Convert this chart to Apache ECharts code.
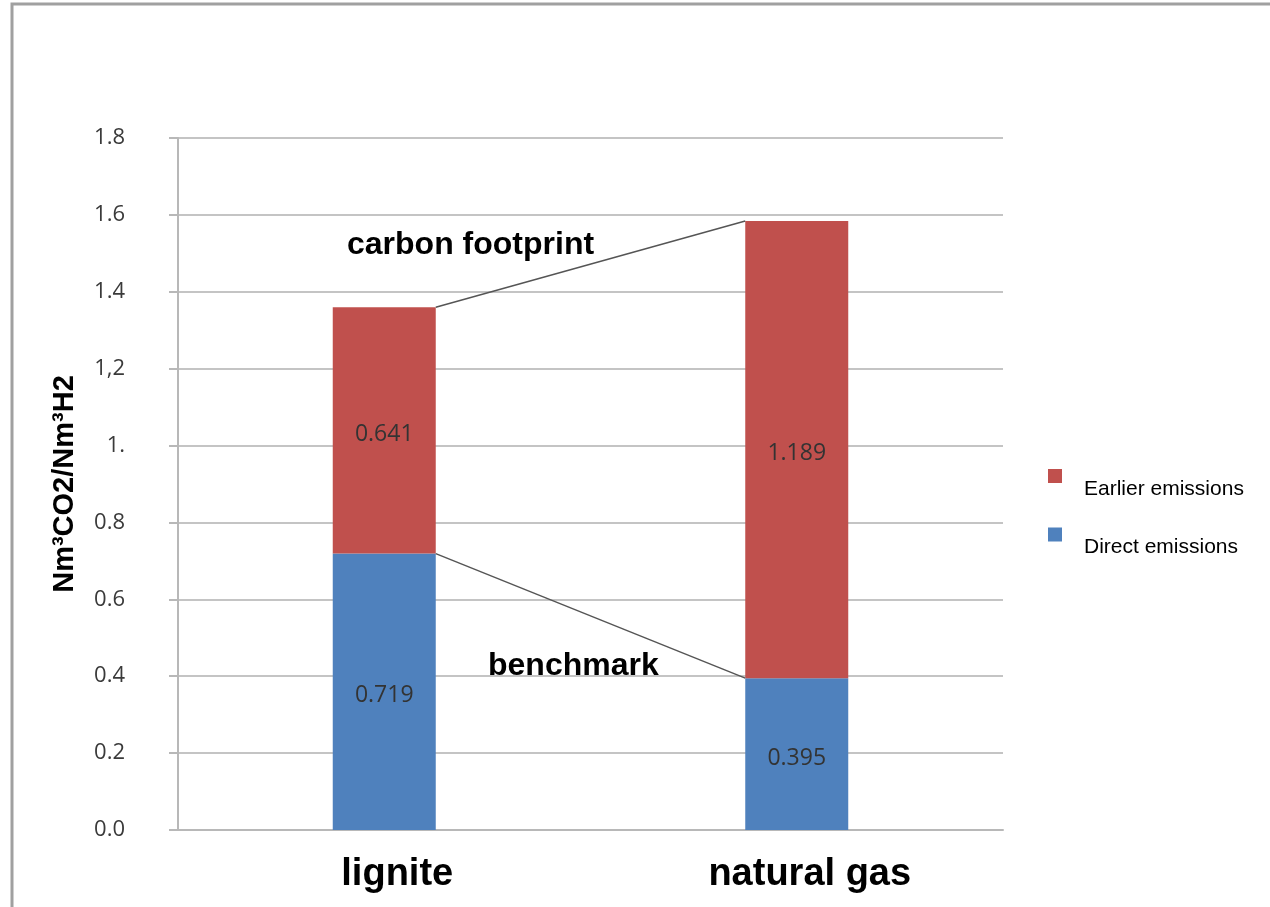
<!DOCTYPE html>
<html>
<head>
<meta charset="utf-8">
<script src="https://cdn.jsdelivr.net/npm/echarts@6/dist/echarts.min.js"></script>
<style>
html,body{margin:0;padding:0;background:#fff;}
#chart{width:1270px;height:907px;}
</style>
</head>
<body>
<div id="chart"></div>
<script>
const categories = ['lignite', 'natural gas'];
const directEmissions = [0.719, 0.395];
const earlierEmissions = [0.641, 1.189];
const seriesNames = ['Direct emissions', 'Earlier emissions'];
const yTickLabels = ['0.0', '0.2', '0.4', '0.6', '0.8', '1.', '1,2', '1.4', '1.6', '1.8'];
const yAxisTitle = 'Nm³CO2/Nm³H2';
const annotationTexts = ['carbon footprint', 'benchmark'];

const totals = directEmissions.map((d, i) => d + earlierEmissions[i]);
const connectorData = [
  [0, totals[0], 1, totals[1]],
  [0, directEmissions[0], 1, directEmissions[1]]
];

const chart = echarts.init(document.getElementById('chart'), null, {renderer: 'canvas'});
const barLabel = {
  show: true,
  position: 'inside',
  offset: [0, 4],
  color: '#333',
  fontSize: 23,
  fontFamily: 'Open Sans, Liberation Sans, sans-serif',
  formatter: p => p.value.toFixed(3)
};

chart.setOption({
  animation: false,
  backgroundColor: '#fff',
  grid: {left: 178, right: 267, top: 138, bottom: 77, containLabel: false},
  legend: {
    orient: 'vertical',
    left: 1043,
    top: 464,
    data: ['Earlier emissions', 'Direct emissions'],
    icon: 'rect',
    itemWidth: 14,
    itemHeight: 14,
    itemGap: 28,
    formatter: '{t|{name}}',
    textStyle: {
      fontFamily: 'Liberation Sans, Arial, sans-serif',
      fontSize: 21,
      color: '#000',
      rich: {
        t: {
          fontFamily: 'Liberation Sans, Arial, sans-serif',
          fontSize: 21,
          color: '#000',
          padding: [26, 0, 0, 17]
        }
      }
    }
  },
  xAxis: {
    type: 'category',
    data: categories,
    axisLine: {show: true, lineStyle: {color: '#b8b8b8', width: 2}},
    axisTick: {show: false},
    axisLabel: {
      color: '#000',
      fontWeight: 'bold',
      fontSize: 38,
      fontFamily: 'Liberation Sans, Arial, sans-serif',
      margin: 26,
      padding: [0, 0, 0, 26]
    }
  },
  yAxis: {
    type: 'value',
    min: 0,
    max: 1.8,
    interval: 0.2,
    name: yAxisTitle,
    nameLocation: 'middle',
    nameRotate: 90,
    nameGap: 99,
    nameTextStyle: {
      color: '#000',
      fontWeight: 'bold',
      fontSize: 29,
      fontFamily: 'Liberation Sans, Arial, sans-serif'
    },
    axisLine: {show: true, lineStyle: {color: '#b8b8b8', width: 2}},
    axisTick: {show: true, length: 9, inside: false, lineStyle: {color: '#b8b8b8', width: 2}},
    splitLine: {show: true, lineStyle: {color: '#c4c4c4', width: 2}},
    axisLabel: {
      color: '#3a3a3a',
      fontSize: 22,
      fontFamily: 'Open Sans, Liberation Sans, sans-serif',
      margin: 53,
      formatter: v => yTickLabels[Math.round(v / 0.2)]
    }
  },
  series: [
    {
      name: seriesNames[0],
      type: 'bar',
      stack: 'total',
      barWidth: 103,
      data: directEmissions,
      itemStyle: {color: '#4f81bd'},
      label: barLabel
    },
    {
      name: seriesNames[1],
      type: 'bar',
      stack: 'total',
      barWidth: 103,
      data: earlierEmissions,
      itemStyle: {color: '#c0504d'},
      label: barLabel
    },
    {
      name: 'connectors',
      type: 'custom',
      silent: true,
      encode: {x: [0, 2], y: [1, 3]},
      data: connectorData,
      z: 5,
      renderItem: function (params, api) {
        const p0 = api.coord([api.value(0), api.value(1)]);
        const p1 = api.coord([api.value(2), api.value(3)]);
        const half = 103 / 2;
        return {
          type: 'line',
          shape: {x1: p0[0] + half, y1: p0[1], x2: p1[0] - half, y2: p1[1]},
          style: {stroke: '#555', lineWidth: 1.5}
        };
      }
    }
  ],
  graphic: [
    {
      type: 'rect',
      silent: true,
      shape: {x: 12, y: 4, width: 1400, height: 1000},
      style: {fill: 'none', stroke: '#a0a0a0', lineWidth: 3}
    },
    {
      type: 'text',
      left: 347,
      top: 229,
      style: {
        text: annotationTexts[0],
        fill: '#000',
        font: 'bold 32px "Liberation Sans", Arial, sans-serif'
      }
    },
    {
      type: 'text',
      left: 488,
      top: 650,
      style: {
        text: annotationTexts[1],
        fill: '#000',
        font: 'bold 32px "Liberation Sans", Arial, sans-serif'
      }
    }
  ]
});
</script>
</body>
</html>
